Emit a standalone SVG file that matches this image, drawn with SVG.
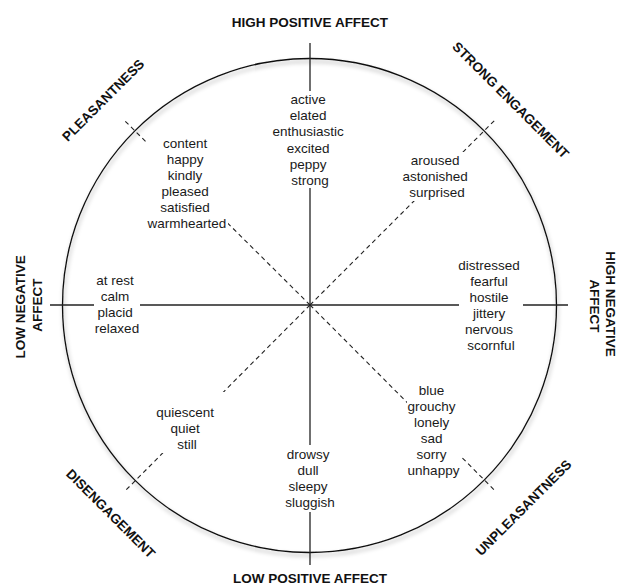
<svg xmlns="http://www.w3.org/2000/svg" width="621" height="587" viewBox="0 0 621 587">
  <defs>
    <filter id="ringShadow" x="-10%" y="-10%" width="120%" height="120%">
      <feDropShadow dx="1" dy="3" stdDeviation="2.2" flood-color="#000" flood-opacity="0.35"/>
    </filter>
    <style>
      .ring { fill: none; stroke: #111; stroke-width: 1.3; }
      .axis { stroke: #222; stroke-width: 1.3; fill: none; }
      .diag { stroke: #222; stroke-width: 1.1; stroke-dasharray: 4.5 3.5; fill: none; }
      .box { fill: #fff; }
      .words { font-family: "Liberation Sans", Arial, Helvetica, sans-serif; font-size: 13.5px; fill: #1a1a1a; text-anchor: middle; }
      .label { font-family: "Liberation Sans", Arial, Helvetica, sans-serif; font-size: 13.5px; font-weight: bold; fill: #111; text-anchor: middle; }
    </style>
  </defs>

  <rect width="621" height="587" fill="#fff"/>

  <!-- outer circle -->
  <circle class="ring" cx="309.5" cy="305.5" r="247" filter="url(#ringShadow)"/>

  <!-- axes and diagonals -->
  <g id="connectors">
    <line class="axis" x1="310" y1="43" x2="310" y2="565"/>
    <line class="axis" x1="50" y1="305" x2="568" y2="305"/>
    <line class="diag" x1="310" y1="305" x2="123.3" y2="119.3"/>
    <line class="diag" x1="310" y1="305" x2="495.7" y2="119.3"/>
    <line class="diag" x1="310" y1="305" x2="124.3" y2="491.7"/>
    <line class="diag" x1="310" y1="305" x2="494.3" y2="490"/>
  </g>

  <!-- word clusters -->
  <g id="node-high-positive-words">
    <rect class="box" x="272" y="91" width="76" height="97"/>
    <text class="words" x="310" y="104">
      <tspan x="310" y="104">active</tspan>
      <tspan x="310" y="120.2">elated</tspan>
      <tspan x="310" y="136.4">enthusiastic</tspan>
      <tspan x="310" y="152.6">excited</tspan>
      <tspan x="310" y="168.8">peppy</tspan>
      <tspan x="310" y="185">strong</tspan>
    </text>
  </g>

  <g id="node-pleasantness-words">
    <rect class="box" x="146" y="135" width="82" height="97"/>
    <text class="words" x="187" y="148">
      <tspan x="187" y="148">content</tspan>
      <tspan x="187" y="164">happy</tspan>
      <tspan x="187" y="180">kindly</tspan>
      <tspan x="187" y="196">pleased</tspan>
      <tspan x="187" y="212">satisfied</tspan>
      <tspan x="187" y="228">warmhearted</tspan>
    </text>
  </g>

  <g id="node-engagement-words">
    <rect class="box" x="403" y="152" width="68" height="49"/>
    <text class="words" x="437" y="165">
      <tspan x="437" y="165">aroused</tspan>
      <tspan x="437" y="181">astonished</tspan>
      <tspan x="437" y="197">surprised</tspan>
    </text>
  </g>

  <g id="node-low-negative-words">
    <rect class="box" x="94" y="271" width="46" height="69"/>
    <text class="words" x="117" y="285">
      <tspan x="117" y="285">at rest</tspan>
      <tspan x="117" y="301">calm</tspan>
      <tspan x="117" y="317">placid</tspan>
      <tspan x="117" y="333">relaxed</tspan>
    </text>
  </g>

  <g id="node-high-negative-words">
    <rect class="box" x="459" y="256" width="64" height="100"/>
    <text class="words" x="491" y="270">
      <tspan x="491" y="270">distressed</tspan>
      <tspan x="491" y="286">fearful</tspan>
      <tspan x="491" y="302">hostile</tspan>
      <tspan x="491" y="318">jittery</tspan>
      <tspan x="491" y="334">nervous</tspan>
      <tspan x="491" y="350">scornful</tspan>
    </text>
  </g>

  <g id="node-disengagement-words">
    <rect class="box" x="157" y="392" width="68" height="61"/>
    <text class="words" x="187" y="417">
      <tspan x="187" y="417">quiescent</tspan>
      <tspan x="187" y="433">quiet</tspan>
      <tspan x="187" y="449">still</tspan>
    </text>
  </g>

  <g id="node-low-positive-words">
    <rect class="box" x="272" y="445" width="76" height="67"/>
    <text class="words" x="310" y="459">
      <tspan x="310" y="459">drowsy</tspan>
      <tspan x="310" y="475">dull</tspan>
      <tspan x="310" y="491">sleepy</tspan>
      <tspan x="310" y="507">sluggish</tspan>
    </text>
  </g>

  <g id="node-unpleasantness-words">
    <rect class="box" x="407" y="381" width="54" height="98"/>
    <text class="words" x="433.5" y="395">
      <tspan x="433.5" y="395">blue</tspan>
      <tspan x="433.5" y="411">grouchy</tspan>
      <tspan x="433.5" y="427">lonely</tspan>
      <tspan x="433.5" y="443">sad</tspan>
      <tspan x="433.5" y="459">sorry</tspan>
      <tspan x="433.5" y="475">unhappy</tspan>
    </text>
  </g>

  <!-- dimension labels -->
  <g id="label-high-positive">
    <text class="label" x="310" y="27">HIGH POSITIVE AFFECT</text>
  </g>
  <g id="label-low-positive">
    <text class="label" x="310" y="583">LOW POSITIVE AFFECT</text>
  </g>
  <g id="label-low-negative">
    <text class="label" transform="translate(25 305) rotate(-90)">
      <tspan x="0" y="0">LOW NEGATIVE</tspan>
      <tspan x="0" y="16.5">AFFECT</tspan>
    </text>
  </g>
  <g id="label-high-negative">
    <text class="label" transform="translate(606 306) rotate(90)">
      <tspan x="0" y="0">HIGH NEGATIVE</tspan>
      <tspan x="0" y="16">AFFECT</tspan>
    </text>
  </g>
  <g id="label-pleasantness">
    <text class="label" transform="translate(106.5 103.5) rotate(-45)">PLEASANTNESS</text>
  </g>
  <g id="label-strong-engagement">
    <text class="label" transform="translate(507.5 103.5) rotate(45)">STRONG ENGAGEMENT</text>
  </g>
  <g id="label-disengagement">
    <text class="label" transform="translate(107.3 516.8) rotate(45)">DISENGAGEMENT</text>
  </g>
  <g id="label-unpleasantness">
    <text class="label" transform="translate(526.8 511) rotate(-45)">UNPLEASANTNESS</text>
  </g>
</svg>
